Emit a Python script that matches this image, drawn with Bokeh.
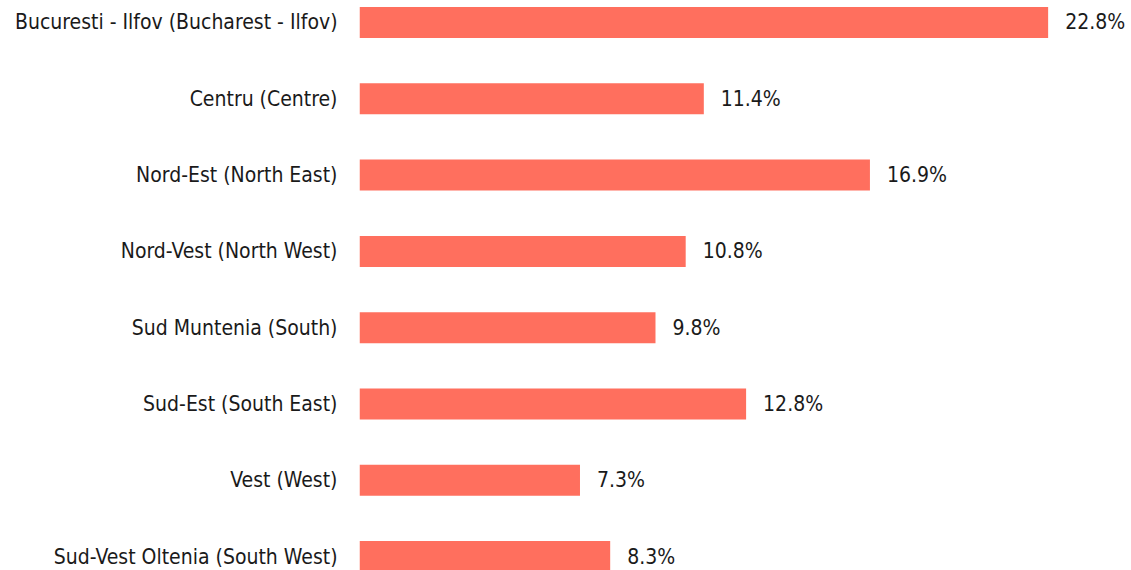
from bokeh.plotting import figure
from bokeh.models import Range1d, FixedTicker, ColumnDataSource
from bokeh.core.properties import value
from bokeh.embed import file_html
from bokeh.resources import INLINE

regions = [
    "Bucuresti - Ilfov (Bucharest - Ilfov)",
    "Centru (Centre)",
    "Nord-Est (North East)",
    "Nord-Vest (North West)",
    "Sud Muntenia (South)",
    "Sud-Est (South East)",
    "Vest (West)",
    "Sud-Vest Oltenia (South West)",
]
shares = [22.8, 11.4, 16.9, 10.8, 9.8, 12.8, 7.3, 8.3]
share_labels = ["22.8%", "11.4%", "16.9%", "10.8%", "9.8%", "12.8%", "7.3%", "8.3%"]

FONT = "DejaVu Sans Condensed"
positions = list(range(len(regions)))

src = ColumnDataSource(dict(y=positions, v=shares, lab=share_labels))

p = figure(width=1131, height=570, output_backend="svg", toolbar_location=None,
           x_range=Range1d(0, 25.56), y_range=Range1d(7.182, -0.2883),
           min_border_left=359, min_border_right=0, min_border_top=0, min_border_bottom=0)
p.hbar(y="y", right="v", left=0, height=0.406, source=src, color="#ff6f5e", line_color=None)
p.text(x="v", y="y", text="lab", source=src, x_offset=17, text_baseline="middle",
       text_align="left", text_font=value(FONT), text_font_size="21px", text_color="#1a1a1a")

p.xaxis.visible = False
yax = p.yaxis[0]
yax.ticker = FixedTicker(ticks=positions)
yax.major_label_overrides = {i: r for i, r in enumerate(regions)}
yax.axis_line_color = None
yax.major_tick_line_color = None
yax.minor_tick_line_color = None
yax.major_tick_out = 0
yax.major_tick_in = 0
yax.major_label_standoff = 22
yax.major_label_text_font = FONT
yax.major_label_text_font_size = "21px"
yax.major_label_text_color = "#1a1a1a"
p.xgrid.visible = False
p.ygrid.visible = False
p.outline_line_color = None
p.background_fill_color = "white"
p.border_fill_color = "white"

open("out.html", "w").write(file_html(p, INLINE))
